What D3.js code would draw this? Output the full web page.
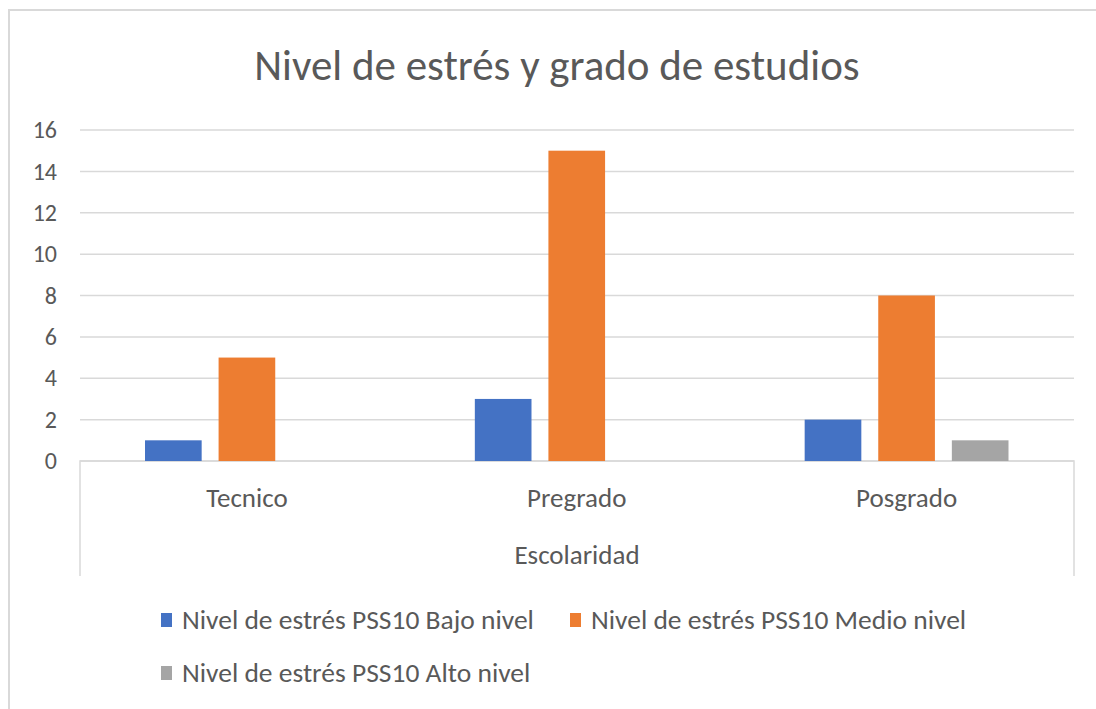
<!DOCTYPE html>
<html>
<head>
<meta charset="utf-8">
<script src="https://cdn.jsdelivr.net/npm/d3@7"></script>
<style>
  body { margin: 0; background: #fff; }
  text { font-family: Carlito, "Liberation Sans Narrow", "Open Sans", sans-serif; }
</style>
</head>
<body>
<div id="chart"></div>
<script>
// data
const categories = ['Tecnico', 'Pregrado', 'Posgrado'];
const seriesNames = ['Nivel de estrés PSS10 Bajo nivel', 'Nivel de estrés PSS10 Medio nivel', 'Nivel de estrés PSS10 Alto nivel'];
const bajo = [1, 3, 2];
const medio = [5, 15, 8];
const alto = [0, 0, 1];
const yTicks = [0, 2, 4, 6, 8, 10, 12, 14, 16];
const colors = ['#4472C4', '#ED7D31', '#A5A5A5'];

// constants
const FRAME_WIDTH = 1096;
const FRAME_HEIGHT = 709;
const PLOT = {left: 80, right: 1074, top: 130, bottom: 461};

const SVG = d3.select('#chart')
              .append('svg')
              .attr('width', FRAME_WIDTH)
              .attr('height', FRAME_HEIGHT);

// outer chart border (left + top visible)
SVG.append('path')
   .attr('d', 'M9,' + FRAME_HEIGHT + ' V10 H' + FRAME_WIDTH)
   .attr('fill', 'none')
   .attr('stroke', '#d9d9d9')
   .attr('stroke-width', 2);

// title
SVG.append('text')
   .attr('x', 557)
   .attr('y', 80)
   .attr('text-anchor', 'middle')
   .attr('font-size', '43px')
   .attr('fill', '#595959')
   .text('Nivel de estrés y grado de estudios');

// scales
const yScale = d3.scaleLinear().domain([0, 16]).range([PLOT.bottom, PLOT.top]);
const x0 = d3.scaleBand().domain(categories)
             .range([82, 1071.5])
             .paddingInner(0.382).paddingOuter(0.191);
const x1 = d3.scaleBand().domain(d3.range(3))
             .range([0, x0.bandwidth()])
             .paddingInner(0.23);

// gridlines
SVG.append('g')
   .selectAll('line')
   .data(yTicks)
   .enter()
   .append('line')
   .attr('x1', PLOT.left)
   .attr('x2', PLOT.right)
   .attr('y1', d => yScale(d))
   .attr('y2', d => yScale(d))
   .attr('stroke', '#d9d9d9')
   .attr('stroke-width', 1.5);

// y axis labels
const yAxis = SVG.append('g')
   .attr('transform', 'translate(' + (PLOT.left - 14) + ',0)')
   .call(d3.axisLeft(yScale).tickValues(yTicks).tickSize(0).tickPadding(9));
yAxis.select('.domain').remove();
yAxis.selectAll('text')
     .attr('font-size', '24px')
     .attr('fill', '#595959')
     .style('font-family', 'Carlito, "Liberation Sans Narrow", "Open Sans", sans-serif');

// category box below axis
SVG.append('path')
   .attr('d', 'M' + PLOT.left + ',576 V' + PLOT.bottom + ' H' + PLOT.right + ' V576')
   .attr('fill', 'none')
   .attr('stroke', '#d9d9d9')
   .attr('stroke-width', 1.5);

// bars
const seriesValues = [bajo, medio, alto];
const groups = SVG.append('g')
   .selectAll('g')
   .data(categories)
   .enter()
   .append('g')
   .attr('transform', d => 'translate(' + x0(d) + ',0)');

groups.selectAll('rect')
      .data((d, i) => seriesValues.map((s, j) => ({series: j, value: s[i]})))
      .enter()
      .append('rect')
      .attr('x', d => x1(d.series))
      .attr('width', x1.bandwidth())
      .attr('y', d => yScale(d.value))
      .attr('height', d => yScale(0) - yScale(d.value))
      .attr('fill', d => colors[d.series])
      .style('display', d => d.value > 0 ? null : 'none');

// category labels
SVG.append('g')
   .selectAll('text')
   .data(categories)
   .enter()
   .append('text')
   .attr('x', d => x0(d) + x0.bandwidth() / 2)
   .attr('y', 507)
   .attr('text-anchor', 'middle')
   .attr('font-size', '27px')
   .attr('fill', '#595959')
   .text(d => d);

// axis title
SVG.append('text')
   .attr('x', (PLOT.left + PLOT.right) / 2)
   .attr('y', 564)
   .attr('text-anchor', 'middle')
   .attr('font-size', '27px')
   .attr('fill', '#595959')
   .text('Escolaridad');

// legend
const legendPos = [{x: 161, y: 620}, {x: 570, y: 620}, {x: 161, y: 673}];
const legend = SVG.append('g')
   .selectAll('g')
   .data(seriesNames)
   .enter()
   .append('g')
   .attr('transform', (d, i) => 'translate(' + legendPos[i].x + ',' + legendPos[i].y + ')');
legend.append('rect')
      .attr('x', 0).attr('y', -7)
      .attr('width', 11).attr('height', 14)
      .attr('fill', (d, i) => colors[i]);
legend.append('text')
      .attr('x', 21)
      .attr('y', 9)
      .attr('font-size', '27.5px')
      .attr('fill', '#595959')
      .text(d => d);
</script>
</body>
</html>
